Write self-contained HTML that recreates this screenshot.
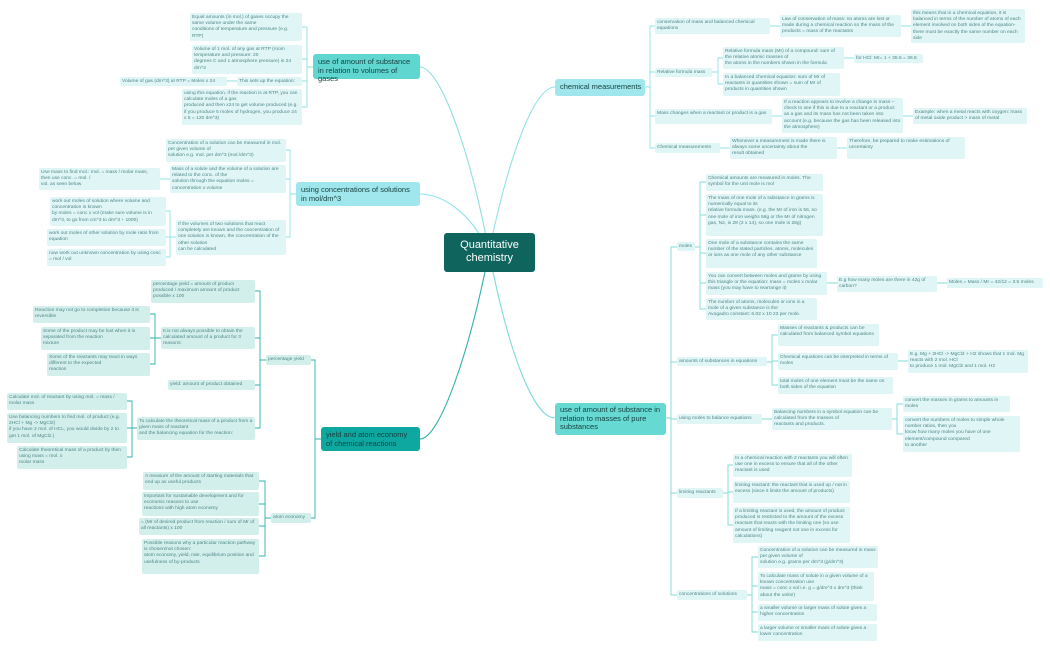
<!DOCTYPE html>
<html><head><meta charset="utf-8"><style>
html,body{margin:0;padding:0;width:1050px;height:650px;background:#fff;overflow:hidden;position:relative;font-family:"Liberation Sans",sans-serif}
svg{position:absolute;left:0;top:0}
.b{position:absolute;box-sizing:border-box;border-radius:2px;font-size:4.9px;line-height:6.2px;color:#4f8787;padding:2px 2px;overflow:hidden;background:#e0f5f6}
.y{background:#d3efec}
.n{white-space:nowrap}
.m{position:absolute;box-sizing:border-box;border-radius:3px;color:#17403f;font-size:7.5px;line-height:8.6px;padding:3px 5px}
</style></head><body>
<svg width="1050" height="650" id="s" fill="none" stroke-linecap="round"></svg>

<div class="m" style="left:444px;top:233px;width:91px;height:39px;background:#0f655e;color:#fff;font-size:11px;line-height:13px;text-align:center;padding-top:6px">Quantitative chemistry</div>

<div class="m" style="left:313px;top:54px;width:107px;height:25px;background:#5fd6d0;padding-top:4px">use of amount of substance in relation to volumes of gases</div>
<div class="m" style="left:296px;top:182px;width:124px;height:24px;background:#9fe7ec;padding-top:4px">using concentrations of solutions in mol/dm^3</div>
<div class="m" style="left:321px;top:427px;width:99px;height:24px;background:#0fa8a0;padding-top:4px">yield and atom economy of chemical reactions</div>
<div class="m n" style="left:555px;top:79px;width:90px;height:17px;background:#9fe7ec;padding-top:4px">chemical measurements</div>
<div class="m" style="left:555px;top:403px;width:111px;height:32px;background:#66d9d3;padding-top:3px">use of amount of substance in relation to masses of pure substances</div>

<!-- gases -->
<div class="b" style="left:190px;top:13px;width:112px;height:28px">Equal amounts (in mol.) of gases occupy the same volume under the same<br>conditions of temperature and pressure (e.g. RTP)</div>
<div class="b" style="left:192px;top:45px;width:110px;height:29px">Volume of 1 mol. of any gas at RTP (room temperature and pressure: 20<br>degrees C and 1 atmosphere pressure) is 24 dm^3</div>
<div class="b n" style="left:237px;top:77px;width:65px;height:9px;padding-top:1.5px">This sets up the equation:</div>
<div class="b n" style="left:120px;top:77px;width:107px;height:9px;padding-top:1.5px">Volume of gas (dm^3) at RTP = Moles x 24</div>
<div class="b" style="left:182px;top:89px;width:120px;height:36px">using this equation, if the reaction is at RTP, you can calculate moles of a gas<br>produced and then x24 to get volume produced (e.g. if you produce 5 moles of hydrogen, you produce 24 x 5 = 120 dm^3)</div>

<!-- concentrations -->
<div class="b" style="left:166px;top:139px;width:120px;height:23px">Concentration of a solution can be measured in mol. per given volume of<br>solution e.g. mol. per dm^3 (mol./dm^3)</div>
<div class="b" style="left:170px;top:165px;width:116px;height:28px">Mass of a solute and the volume of a solution are related to the conc. of the<br>solution through the equation moles = concentration x volume</div>
<div class="b" style="left:39px;top:168px;width:121px;height:22px">Use mass to find mol.: mol. = mass / molar mass, then use conc. = mol. /<br>vol. as seen below</div>
<div class="b" style="left:176px;top:220px;width:110px;height:35px">If the volumes of two solutions that react completely are known and the concentration of one solution is known, the concentration of the other solution<br>can be calculated</div>
<div class="b" style="left:50px;top:197px;width:116px;height:29px">work out moles of solution where volume and concentration is known<br>by moles = conc x vol (make sure volume is in dm^3, to go from cm^3 to dm^3 ÷ 1000)</div>
<div class="b" style="left:47px;top:229px;width:119px;height:17px">work out moles of other solution by mole ratio from equation</div>
<div class="b" style="left:47px;top:249px;width:119px;height:17px">now work out unknown concentration by using conc = mol / vol</div>

<!-- yield -->
<div class="b y n" style="left:266px;top:355px;width:45px;height:10px;padding-top:2px">percentage yield</div>
<div class="b y n" style="left:271px;top:513px;width:40px;height:10px;padding-top:2px">atom economy</div>
<div class="b y" style="left:151px;top:280px;width:104px;height:23px">percentage yield = amount of product produced / maximum amount of product possible x 100</div>
<div class="b y" style="left:161px;top:327px;width:94px;height:22px">It is not always possible to obtain the calculated amount of a product for 3 reasons:</div>
<div class="b y n" style="left:168px;top:380px;width:87px;height:10px;padding-top:2px">yield: amount of product obtained</div>
<div class="b y" style="left:137px;top:417px;width:118px;height:23px">To calculate the theoretical mass of a product from a given mass of reactant<br>and the balancing equation for the reaction:</div>
<div class="b y" style="left:33px;top:306px;width:117px;height:17px">Reaction may not go to completion because it is reversible</div>
<div class="b y" style="left:41px;top:327px;width:109px;height:23px">Some of the product may be lost when it is separated from the reaction<br>mixture</div>
<div class="b y" style="left:47px;top:353px;width:103px;height:23px">Some of the reactants may react in ways different to the expected<br>reaction</div>
<div class="b y" style="left:7px;top:393px;width:120px;height:17px">Calculate mol. of reactant by using mol. = mass / molar mass</div>
<div class="b y" style="left:7px;top:413px;width:120px;height:30px">Use balancing numbers to find mol. of product (e.g. 2HCl + Mg -&gt; MgCl2)<br>if you have 2 mol. of HCL, you would divide by 2 to get 1 mol. of MgCl2.)</div>
<div class="b y" style="left:17px;top:446px;width:110px;height:23px">Calculate theoretical mass of a product by then using mass = mol. x<br>molar mass</div>
<div class="b y" style="left:143px;top:472px;width:116px;height:18px">A measure of the amount of starting materials that end up as useful products</div>
<div class="b y" style="left:142px;top:492px;width:117px;height:24px">Important for sustainable development and for economic reasons to use<br>reactions with high atom economy</div>
<div class="b y" style="left:139px;top:518px;width:120px;height:17px">= (Mr of desired product from reaction / sum of Mr of all reactants) x 100</div>
<div class="b y" style="left:142px;top:539px;width:117px;height:35px">Possible reasons why a particular reaction pathway is chosen/not chosen:<br>atom economy, yield, rate, equilibrium position and usefulness of by-products</div>

<!-- chemical measurements -->
<div class="b" style="left:655px;top:18px;width:115px;height:16px">conservation of mass and balanced chemical equations</div>
<div class="b" style="left:780px;top:15px;width:121px;height:22px">Law of conservation of mass: no atoms are lost or made during a chemical reaction so the mass of the products = mass of the reactants</div>
<div class="b" style="left:911px;top:9px;width:114px;height:34px">this means that in a chemical equation, it is balanced in terms of the number of atoms of each element involved on both sides of the equation- there must be exactly the same number on each side</div>
<div class="b n" style="left:655px;top:68px;width:57px;height:9px;padding-top:1.5px">Relative formula mass</div>
<div class="b" style="left:723px;top:47px;width:121px;height:22px">Relative formula mass (Mr) of a compound: sum of the relative atomic masses of<br>the atoms in the numbers shown in the formula</div>
<div class="b n" style="left:854px;top:54px;width:69px;height:9px;padding-top:1.5px">for HCl: Mr= 1 + 35.5 = 36.5</div>
<div class="b" style="left:723px;top:73px;width:117px;height:23px">In a balanced chemical equation: sum of Mr of reactants in quantities shown = sum of Mr of products in quantities shown</div>
<div class="b" style="left:655px;top:109px;width:117px;height:15px">Mass changes when a reactant or product is a gas</div>
<div class="b" style="left:782px;top:98px;width:121px;height:35px">If a reaction appears to involve a change in mass – check to see if this is due to a reactant or a product as a gas and its mass has not been taken into account (e.g. because the gas has been released into the atmosphere)</div>
<div class="b" style="left:913px;top:108px;width:114px;height:16px">Example: when a metal reacts with oxygen: mass of metal oxide product &gt; mass of metal</div>
<div class="b n" style="left:655px;top:143px;width:65px;height:10px;padding-top:2px">Chemical measurements</div>
<div class="b" style="left:730px;top:137px;width:107px;height:22px">Whenever a measurement is made there is always some uncertainty about the<br>result obtained</div>
<div class="b" style="left:847px;top:137px;width:118px;height:22px">Therefore, be prepared to make estimations of uncertainty</div>

<!-- masses -->
<div class="b n" style="left:677px;top:242px;width:18px;height:9px;padding-top:1.5px">moles</div>
<div class="b" style="left:706px;top:174px;width:117px;height:17px">Chemical amounts are measured in moles. The symbol for the unit mole is mol</div>
<div class="b" style="left:706px;top:194px;width:117px;height:42px">The mass of one mole of a substance in grams is numerically equal to its<br>relative formula mass. (e.g. the Mr of iron is 56, so one mole of iron weighs 56g or the Mr of nitrogen gas, N2, is 28 (2 x 14), so one mole is 28g)</div>
<div class="b" style="left:706px;top:239px;width:111px;height:29px">One mole of a substance contains the same number of the stated particles, atoms, molecules or ions as one mole of any other substance</div>
<div class="b" style="left:706px;top:272px;width:121px;height:23px">You can convert between moles and grams by using this triangle or the equation: mass = moles x molar mass (you may have to rearrange it)</div>
<div class="b" style="left:837px;top:276px;width:100px;height:16px">E.g how many moles are there in 42g of carbon?</div>
<div class="b n" style="left:947px;top:278px;width:96px;height:10px;padding-top:2px">Moles = Mass / Mr = 42/12 = 3.5 moles</div>
<div class="b" style="left:706px;top:298px;width:111px;height:22px">The number of atoms, molecules or ions in a mole of a given substance is the<br>Avogadro constant: 6.02 x 10 23 per mole.</div>
<div class="b n" style="left:677px;top:357px;width:90px;height:9px;padding-top:1.5px">amounts of substances in equations</div>
<div class="b" style="left:778px;top:324px;width:101px;height:22px">Masses of reactants &amp; products can be calculated from balanced symbol equations</div>
<div class="b" style="left:778px;top:353px;width:120px;height:17px">Chemical equations can be interpreted in terms of moles</div>
<div class="b" style="left:908px;top:350px;width:120px;height:23px">E.g. Mg + 2HCl -&gt; MgCl2 + H2 shows that 1 mol. Mg reacts with 2 mol. HCl<br>to produce 1 mol. MgCl2 and 1 mol. H2</div>
<div class="b" style="left:778px;top:377px;width:115px;height:17px">total moles of one element must be the same on both sides of the equation</div>
<div class="b n" style="left:677px;top:414px;width:85px;height:10px;padding-top:2px">using moles to balance equations</div>
<div class="b" style="left:772px;top:408px;width:120px;height:22px">Balancing numbers in a symbol equation can be calculated from the masses of<br>reactants and products.</div>
<div class="b" style="left:903px;top:396px;width:107px;height:16px">convert the masses in grams to amounts in moles</div>
<div class="b" style="left:903px;top:416px;width:117px;height:36px">convert the numbers of moles to simple whole number ratios, then you<br>know how many moles you have of one element/compound compared<br>to another</div>
<div class="b n" style="left:677px;top:488px;width:46px;height:10px;padding-top:2px">limiting reactants</div>
<div class="b" style="left:733px;top:454px;width:119px;height:23px">In a chemical reaction with 2 reactants you will often use one in excess to ensure that all of the other reactant is used</div>
<div class="b" style="left:733px;top:481px;width:117px;height:22px">limiting reactant: the reactant that is used up / not in excess (since it limits the amount of products)</div>
<div class="b" style="left:733px;top:507px;width:117px;height:36px">If a limiting reactant is used, the amount of product produced is restricted to the amount of the excess reactant that reacts with the limiting one (so use amount of limiting reagent not one in excess for calculations)</div>
<div class="b n" style="left:677px;top:590px;width:70px;height:10px;padding-top:2px">concentrations of solutions</div>
<div class="b" style="left:758px;top:546px;width:120px;height:22px">Concentration of a solution can be measured in mass per given volume of<br>solution e.g. grams per dm^3 (g/dm^3)</div>
<div class="b" style="left:758px;top:572px;width:116px;height:29px">To calculate mass of solute in a given volume of a known concentration use<br>mass = conc x vol i.e. g = g/dm^3 x dm^3 (think about the units!)</div>
<div class="b" style="left:758px;top:604px;width:119px;height:17px">a smaller volume or larger mass of solute gives a higher concentration</div>
<div class="b" style="left:758px;top:624px;width:119px;height:17px">a larger volume or smaller mass of solute gives a lower concentration</div>

<script>
var s=document.getElementById('s'),d='';
function p(path,c,w){d+='<path d="'+path+'" stroke="'+c+'" stroke-width="'+(w||0.9)+'"/>';}
function con(px,py,sx,kids,c){p('M'+px+' '+py+'H'+sx,c);var ys=kids.map(k=>k[1]).concat([py]);
p('M'+sx+' '+Math.min.apply(0,ys)+'V'+Math.max.apply(0,ys),c);kids.forEach(k=>p('M'+sx+' '+k[1]+'H'+k[0],c));}
var C1='#8fdfde',C2='#8fe4ea',C3='#2fb2a9',C4='#8fe2e6',C5='#7ddbd6';
p('M489 252C470 150 440 67 420 67',C1,1.1);
p('M489 252C470 210 440 194 420 194',C2,1.1);
p('M489 252C470 350 440 439 420 439',C3,1.1);
p('M489 252C510 150 535 87 555 87',C4,1.1);
p('M489 252C510 360 535 418 555 418',C5,1.1);
con(313,67,307,[[302,27],[302,59],[302,81],[302,107]],C1);p('M237 81H227',C1);
con(296,194,290,[[286,150],[286,179],[286,237]],C2);p('M170 179H160',C2);
con(176,237,170,[[166,211],[166,237],[166,257]],C2);
con(321,439,315,[[311,360],[311,518]],C3);
con(266,360,260,[[255,291],[255,338],[255,385],[255,428]],C3);
con(161,338,155,[[150,314],[150,338],[150,364]],C3);
con(137,428,132,[[127,401],[127,428],[127,457]],C3);
con(271,518,265,[[259,481],[259,504],[259,526],[259,556]],C3);
con(645,87,650,[[655,26],[655,72],[655,116],[655,148]],C4);
p('M770 26H780',C4);p('M901 26H911',C4);
con(712,72,718,[[723,58],[723,84]],C4);p('M844 58H854',C4);
p('M772 116H782',C4);p('M903 116H913',C4);
p('M720 148H730',C4);p('M837 148H847',C4);
con(666,418,671,[[677,247],[677,362],[677,419],[677,493],[677,595]],C5);
con(695,247,700,[[706,182],[706,215],[706,253],[706,283],[706,309]],C5);
p('M827 283H837',C5);p('M937 283H947',C5);
con(767,362,772,[[778,335],[778,361],[778,385]],C5);p('M898 361H908',C5);
p('M762 419H772',C5);
con(892,419,897,[[903,404],[903,434]],C5);
con(723,493,728,[[733,465],[733,492],[733,525]],C5);
con(747,595,752,[[758,557],[758,586],[758,612],[758,632]],C5);
s.innerHTML=d;
</script>
</body></html>
